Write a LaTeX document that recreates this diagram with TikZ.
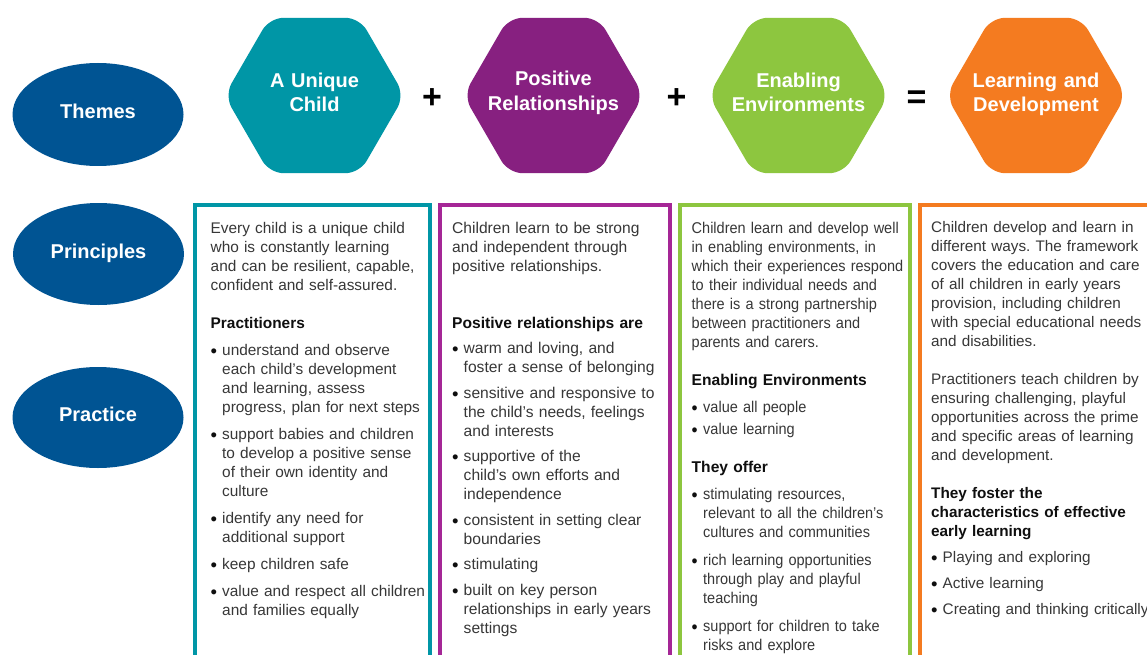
\documentclass[tikz,border=0pt]{standalone}
\usepackage{fontspec}
\setmainfont{Liberation Sans}
\newfontfamily\narrowsans[FakeStretch=0.93]{Liberation Sans}
\usetikzlibrary{shapes.geometric}
\definecolor{eyblue}{RGB}{0,84,147}
\definecolor{eyteal}{RGB}{0,150,166}
\definecolor{eypurple}{RGB}{135,32,128}
\definecolor{eypurplebox}{RGB}{165,38,150}
\definecolor{eygreen}{RGB}{141,198,63}
\definecolor{eyorange}{RGB}{244,123,32}
\definecolor{bodytext}{RGB}{55,55,55}
\definecolor{headtext}{RGB}{15,15,15}
\newcommand\bul{\makebox[11.5pt][l]{\raisebox{-2.1pt}{\fontsize{18.5}{18.5}\selectfont\textcolor{headtext}{\textbullet}}}}
\newcommand\ind{\hspace*{11.5pt}}
\newcommand\hd[1]{{\normalfont\bfseries\color{headtext}#1}}
\frenchspacing
\begin{document}
\frenchspacing
\begin{tikzpicture}[x=1pt,y=-1pt,
 oval/.style={ellipse, fill=eyblue, inner sep=0, minimum width=171pt},
 ovaltext/.style={anchor=base, text=white, inner sep=0, font=\fontsize{20}{24}\selectfont\bfseries},
 hexshape/.style={rounded corners=14pt},
 hextext/.style={anchor=base, text=white, align=center, text width=180pt, inner sep=0, font=\fontsize{20}{24.5}\selectfont\bfseries},
 opsign/.style={anchor=base, inner sep=0, text=black, font=\fontsize{34}{34}\selectfont\bfseries},
 colbox/.style={line width=4pt},
 coltext/.style={anchor=base west, align=left, text width=240pt, inner sep=0, text=bodytext, font=\fontsize{15.6}{19}\selectfont\frenchspacing},
]
\useasboundingbox[fill=white] (0,0) rectangle (1147,655);

% row labels
\node[oval, minimum height=103pt] (themes) at (98,114.5) {};
\node[ovaltext] (themesT) at (98,119) {Themes};
\node[oval, minimum height=102pt] (principles) at (98.5,254) {};
\node[ovaltext] (principlesT) at (98.5,258) {Principles};
\node[oval, minimum height=101pt] (practice) at (98,417.5) {};
\node[ovaltext] (practiceT) at (98,421) {Practice};

% hexagons
\fill[eyteal, hexshape, shift={(314.5,95.5)}] (-90,0) -- (-45,-77.7) -- (45,-77.7) -- (90,0) -- (45,77.7) -- (-45,77.7) -- cycle;
\node[hextext] (hexA) at (314.5,87.5) {A Unique\\Child};
\fill[eypurple, hexshape, shift={(553.5,95.5)}] (-90,0) -- (-45,-77.7) -- (45,-77.7) -- (90,0) -- (45,77.7) -- (-45,77.7) -- cycle;
\node[hextext] (hexB) at (553.5,86) {Positive\\Relationships};
\fill[eygreen, hexshape, shift={(798.5,95.5)}] (-90,0) -- (-45,-77.7) -- (45,-77.7) -- (90,0) -- (45,77.7) -- (-45,77.7) -- cycle;
\node[hextext] (hexC) at (798.5,87.5) {Enabling\\Environments};
\fill[eyorange, hexshape, shift={(1036,95.5)}] (-90,0) -- (-45,-77.7) -- (45,-77.7) -- (90,0) -- (45,77.7) -- (-45,77.7) -- cycle;
\node[hextext] (hexD) at (1036,87.5) {Learning and\\Development};

% operators
\node[opsign] (plusA) at (432,108.5) {+};
\node[opsign] (plusB) at (676.5,108.5) {+};
\node[opsign] (equals) at (916.5,108.5) {=};

% column boxes
\draw[colbox, eyteal] (195,205) rectangle (430,690);
\draw[colbox, eypurplebox] (440,205) rectangle (670,690);
\draw[colbox, eygreen] (680,205) rectangle (910,690);
\draw[colbox, eyorange] (920,205) rectangle (1200,690);

% column texts
\node[coltext, font=\fontsize{15.4}{19}\selectfont\frenchspacing] (colA) at (210.5,233) {%
Every child is a unique child\\
who is constantly learning\\
and can be resilient, capable,\\
confident and self-assured.\\[19pt]
\hd{Practitioners}\\[8pt]
\bul understand and observe\\
\ind each child’s development\\
\ind and learning, assess\\
\ind progress, plan for next steps\\[8pt]
\bul support babies and children\\
\ind to develop a positive sense\\
\ind of their own identity and\\
\ind culture\\[8pt]
\bul identify any need for\\
\ind additional support\\[8pt]
\bul keep children safe\\[8pt]
\bul value and respect all children\\
\ind and families equally};

\node[coltext] (colB) at (452,233) {%
Children learn to be strong\\
and independent through\\
positive relationships.\\[38pt]
\hd{Positive relationships are}\\[6.5pt]
\bul warm and loving, and\\
\ind foster a sense of belonging\\[6.5pt]
\bul sensitive and responsive to\\
\ind the child’s needs, feelings\\
\ind and interests\\[6.5pt]
\bul supportive of the\\
\ind child’s own efforts and\\
\ind independence\\[6.5pt]
\bul consistent in setting clear\\
\ind boundaries\\[6.5pt]
\bul stimulating\\[6.5pt]
\bul built on key person\\
\ind relationships in early years\\
\ind settings};

\node[coltext, font=\fontsize{15.6}{19}\narrowsans\frenchspacing] (colC) at (691.5,233) {%
Children learn and develop well\\
in enabling environments, in\\
which their experiences respond\\
to their individual needs and\\
there is a strong partnership\\
between practitioners and\\
parents and carers.\\[19pt]
\hd{Enabling Environments}\\[8pt]
\bul value all people\\[3pt]
\bul value learning\\[19pt]
\hd{They offer}\\[8pt]
\bul stimulating resources,\\
\ind relevant to all the children’s\\
\ind cultures and communities\\[9pt]
\bul rich learning opportunities\\
\ind through play and playful\\
\ind teaching\\[9pt]
\bul support for children to take\\
\ind risks and explore};

\node[coltext, font=\fontsize{15.3}{19}\selectfont\frenchspacing] (colD) at (931,232.5) {%
Children develop and learn in\\
different ways. The framework\\
covers the education and care\\
of all children in early years\\
provision, including children\\
with special educational needs\\
and disabilities.\\[19pt]
Practitioners teach children by\\
ensuring challenging, playful\\
opportunities across the prime\\
and specific areas of learning\\
and development.\\[19pt]
\hd{They foster the}\\
\hd{characteristics of effective}\\
\hd{early learning}\\[7pt]
\bul Playing and exploring\\[7pt]
\bul Active learning\\[7pt]
\bul Creating and thinking critically};
\end{tikzpicture}
\end{document}
